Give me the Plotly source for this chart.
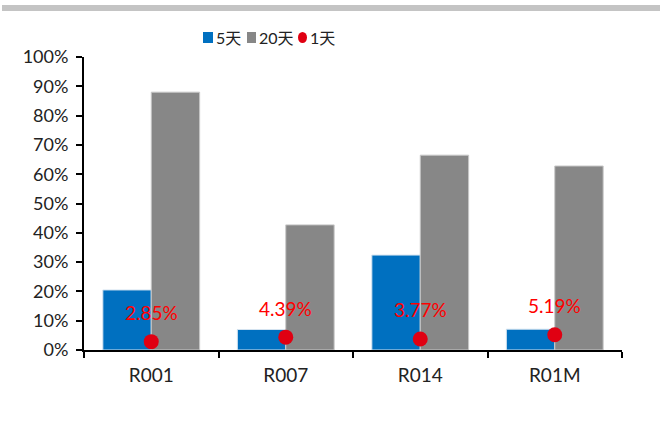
import plotly.graph_objects as go

categories = ["R001", "R007", "R014", "R01M"]
five_day = [0.205, 0.070, 0.324, 0.071]
twenty_day = [0.880, 0.427, 0.665, 0.628]
one_day = [0.0285, 0.0439, 0.0377, 0.0519]
y_ticks = [i / 10 for i in range(11)]
y_tick_labels = [f"{i * 10}%" for i in range(11)]

FONT = "Lato, 'Noto Sans CJK SC', sans-serif"
BLUE, GREY, RED = "#0070c0", "#878787", "#e00012"

# plot-area geometry in pixels, used to place the legend in paper units
L, R, T, B, W, H = 84, 38, 57, 76, 660, 426
PW, PH = W - L - R, H - T - B


def px(x):
    return (x - L) / PW


def py(y):
    return (H - B - y) / PH


fig = go.Figure()
fig.add_trace(go.Bar(
    x=categories, y=five_day, name="5天",
    marker=dict(color=BLUE, line=dict(color="#d6e4f0", width=1)),
))
fig.add_trace(go.Bar(
    x=categories, y=twenty_day, name="20天",
    marker=dict(color=GREY, line=dict(color="#c8c8c8", width=1)),
))
fig.add_trace(go.Scatter(
    x=categories, y=one_day, name="1天", mode="markers",
    marker=dict(color=RED, size=15),
))

# value labels above the 1-day dots
for c, v in zip(categories, one_day):
    fig.add_annotation(
        x=c, y=v, text=f"{v * 100:.2f}%", showarrow=False,
        yshift=29, font=dict(color="#ff0000", size=19, family=FONT),
    )

# grey band across the top
fig.add_shape(
    type="rect", xref="paper", yref="paper",
    x0=px(2), x1=px(662), y0=py(11), y1=py(5),
    fillcolor="#c4c4c4", line=dict(width=0), layer="above",
)

# compact legend: symbol followed directly by its name
legend_items = [
    ("rect", BLUE, 203, 213, "5天", 214),
    ("rect", GREY, 247, 256, "20天", 257),
    ("circle", RED, 298, 307, "1天", 308),
]
for kind, color, x0, x1, label, tx in legend_items:
    fig.add_shape(
        type=kind, xref="paper", yref="paper",
        x0=px(x0), x1=px(x1), y0=py(43), y1=py(32),
        fillcolor=color, line=dict(width=0),
    )
    fig.add_annotation(
        xref="paper", yref="paper", x=px(tx), y=py(37.5),
        xanchor="left", yanchor="middle", text=label, showarrow=False,
        font=dict(size=16, family=FONT, color="#222"),
    )

fig.update_layout(
    width=W, height=H,
    margin=dict(l=L, r=R, t=T, b=B),
    paper_bgcolor="white", plot_bgcolor="white",
    barmode="group", bargap=0.28, bargroupgap=0,
    font=dict(family=FONT, size=18, color="#222"),
    showlegend=False,
    xaxis=dict(
        showline=True, linecolor="black", linewidth=2,
        ticks="outside", tickson="boundaries", ticklen=6, tickwidth=2,
        tickcolor="black", tickfont=dict(size=19), showgrid=False,
        ticklabelstandoff=7,
    ),
    yaxis=dict(
        range=[0, 1], tickvals=y_ticks, ticktext=y_tick_labels,
        showline=True, linecolor="black", linewidth=2,
        ticks="outside", ticklen=6, tickwidth=2, tickcolor="black",
        showgrid=False, zeroline=False, tickfont=dict(size=18),
        ticklabelstandoff=4,
    ),
)

fig.write_html("out.html")
